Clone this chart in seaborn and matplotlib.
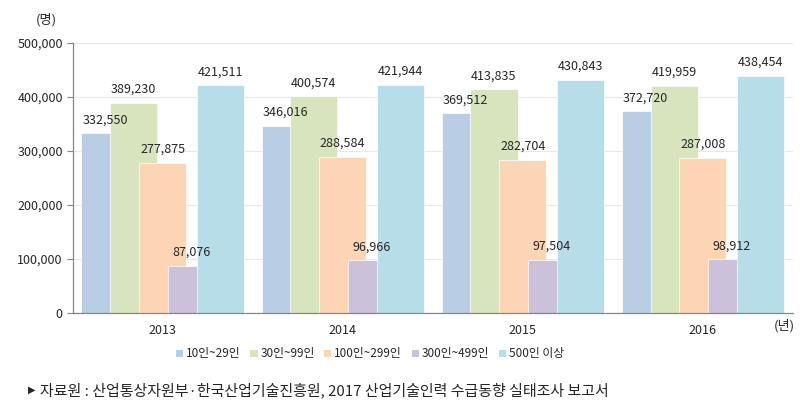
import pandas as pd
import numpy as np
import matplotlib
matplotlib.use('Agg')
import matplotlib.pyplot as plt
import seaborn as sns

# ---- 데이터 ----
years = ['2013', '2014', '2015', '2016']
sizes = ['10인~29인', '30인~99인', '100인~299인', '300인~499인', '500인 이상']
v_10_29 = [332550, 346016, 369512, 372720]
v_30_99 = [389230, 400574, 413835, 419959]
v_100_299 = [277875, 288584, 282704, 287008]
v_300_499 = [87076, 96966, 97504, 98912]
v_500 = [421511, 421944, 430843, 438454]
colors = ['#B9CDE5', '#D7E4BD', '#FCD5B5', '#CCC1DA', '#B7DEE8']

rows = []
for name, vals in zip(sizes, [v_10_29, v_30_99, v_100_299, v_300_499, v_500]):
    for y, v in zip(years, vals):
        rows.append({'year': y, 'size': name, 'value': v})
df = pd.DataFrame(rows)

sns.set_style('white')
plt.rcParams['font.family'] = ['Noto Sans CJK KR', 'DejaVu Sans']

fig = plt.figure(figsize=(8.12, 4.09), dpi=100)
ax = fig.add_axes([0.0893, 0.2355, 0.8873, 0.66])

sns.barplot(data=df, x='year', y='value', hue='size', hue_order=sizes,
            order=years, palette=colors, width=0.8, saturation=1,
            edgecolor='white', linewidth=0.5, ax=ax, legend=False)

# Excel 스타일: 겹쳐진 넓은 막대
bar_w = 0.261
for cont in ax.containers:
    for p in cont.patches:
        c = p.get_x() + p.get_width() / 2
        p.set_width(bar_w)
        p.set_x(c - bar_w / 2)
    ax.bar_label(cont, labels=[f'{v:,.0f}' for v in cont.datavalues],
                 padding=5, fontsize=9)

ax.set_ylim(0, 500000)
ax.set_xlim(-0.5, 3.5)
ax.set_yticks(np.arange(0, 500001, 100000))
ax.set_yticklabels([f'{t:,.0f}' for t in np.arange(0, 500001, 100000)], fontsize=9)
ax.yaxis.grid(True, color='#E8E8E8', linewidth=0.8)
ax.set_axisbelow(True)

ax.set_xticks(range(4))
ax.set_xticklabels(years, fontsize=9)
ax.set_xticks(np.arange(-0.5, 3.6, 1), minor=True)
ax.tick_params(axis='x', which='major', length=0, pad=8)
ax.tick_params(axis='x', which='minor', length=4, color='#868686', width=0.8, direction='out')
ax.tick_params(axis='y', length=4, color='#868686', width=0.8, direction='out', pad=3, left=True)

for s in ['top', 'right']:
    ax.spines[s].set_visible(False)
for s in ['left', 'bottom']:
    ax.spines[s].set_color('#868686')
    ax.spines[s].set_linewidth(0.9)

ax.set_xlabel('')
ax.set_ylabel('')

fig.text(46 / 812, 1 - 20 / 409, '(명)', fontsize=9.5, ha='center', va='center')
fig.text(784 / 812, 1 - 326 / 409, '(년)', fontsize=9.5, ha='center', va='center')

handles = [cont.patches[0] for cont in ax.containers]
leg = fig.legend(handles, sizes, loc='center', bbox_to_anchor=(370 / 812, 1 - 354 / 409),
                 ncol=5, frameon=False, fontsize=8.5, handlelength=0.6,
                 handleheight=0.6, handletextpad=0.25, columnspacing=0.8)
for h in leg.legend_handles:
    h.set_edgecolor('none')

fig.text(28 / 812, 1 - 390 / 409, '▶', fontsize=7, ha='left', va='center',
         family=['DejaVu Sans'])
fig.text(40 / 812, 1 - 390 / 409,
         '자료원 : 산업통상자원부·한국산업기술진흥원, 2017 산업기술인력 수급동향 실태조사 보고서',
         fontsize=10.8, ha='left', va='center', family=['Noto Sans CJK KR', 'DejaVu Sans'])

fig.savefig('out.png', dpi=100)
